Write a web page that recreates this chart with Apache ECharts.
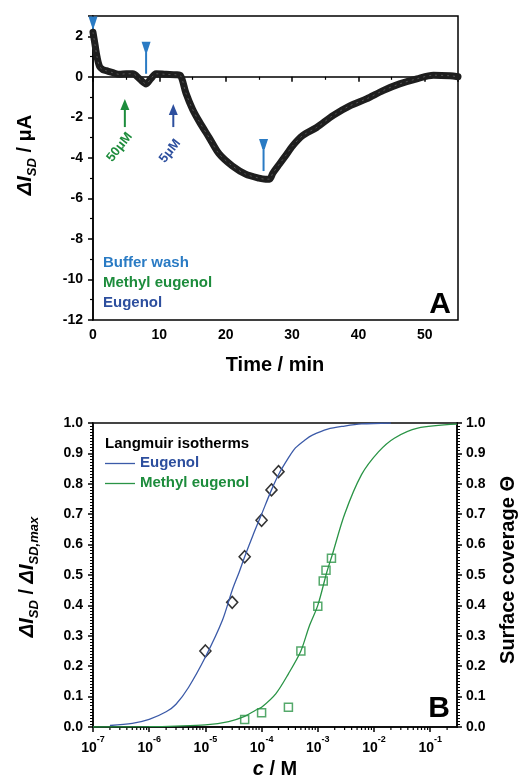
<!DOCTYPE html>
<html><head><meta charset="utf-8">
<script src="https://cdn.jsdelivr.net/npm/echarts@6/dist/echarts.min.js"></script>
<style>html,body{margin:0;padding:0;background:#fff}#c{width:521px;height:778px}</style>
</head><body><div id="c"></div>
<script>
// ---------- Panel A data ----------
const timeMin = [0, 0.3, 0.6, 1, 1.5, 2, 3, 4, 5, 6, 7, 8, 8.7, 9.5, 11, 12.5, 13.2, 14, 15, 16, 17.5, 19, 21, 23, 25, 26, 26.6, 27.1, 28.1, 29, 30.1, 31.6, 33.7, 36.2, 38.7, 41.2, 43.7, 46.2, 48.8, 51.3, 53.8, 55];
const currentUA = [2.2, 1.6, 1.0, 0.5, 0.35, 0.3, 0.2, 0.12, 0.15, 0.15, -0.1, -0.35, -0.1, 0.15, 0.12, 0.1, 0.05, -0.8, -1.6, -2.2, -3.0, -3.8, -4.4, -4.8, -5.0, -5.05, -5.05, -4.75, -4.3, -3.9, -3.4, -2.9, -2.5, -1.9, -1.43, -1.09, -0.68, -0.35, -0.1, 0.08, 0.05, 0.0];
const washT = [0, 8, 25.7];
const washY = [1.4, 0.15, -4.65];
const addT = [4.8, 12.1];
const addFrom = [-2.48, -2.48];
const addTo = [-1.09, -1.34];
const addLabels = ['50μM', '5μM'];
const addLabelT = [4.0, 11.6];
const addLabelY = [-3.47, -3.66];
const xTicksA = [0, 10, 20, 30, 40, 50];
const yTicksA = [-12, -10, -8, -6, -4, -2, 0, 2];

// ---------- Panel B data ----------
const eugC = [1e-5, 3e-5, 5e-5, 1e-4, 1.5e-4, 2e-4];
const eugTheta = [0.25, 0.41, 0.56, 0.68, 0.78, 0.84];
const meC = [5e-5, 1e-4, 3e-4, 5e-4, 1e-3, 1.25e-3, 1.4e-3, 1.75e-3];
const meTheta = [0.025, 0.047, 0.065, 0.25, 0.397, 0.48, 0.516, 0.555];
const eugFitC = [2e-7, 5e-7, 1e-6, 2e-6, 3e-6, 5e-6, 1e-5, 2e-5, 3e-5, 4e-5, 5e-5, 7e-5, 1e-4, 1.5e-4, 2e-4, 3e-4, 4e-4, 6e-4, 8e-4, 1.5e-3, 3e-3, 6e-3, 2e-2];
const eugFitTheta = [0.005, 0.012, 0.025, 0.05, 0.075, 0.13, 0.23, 0.35, 0.45, 0.51, 0.56, 0.63, 0.70, 0.78, 0.83, 0.885, 0.918, 0.945, 0.96, 0.98, 0.99, 0.997, 1.0];
const meFitC = [1e-7, 1e-6, 3e-6, 1e-5, 2.6e-5, 5e-5, 7.8e-5, 1e-4, 1.8e-4, 3e-4, 5e-4, 7e-4, 1e-3, 1.45e-3, 1.8e-3, 3e-3, 6e-3, 1.2e-2, 2.3e-2, 6e-2, 0.3];
const meFitTheta = [0.0, 0.001, 0.003, 0.007, 0.018, 0.035, 0.055, 0.065, 0.11, 0.175, 0.25, 0.33, 0.40, 0.51, 0.565, 0.70, 0.83, 0.905, 0.95, 0.983, 0.996];
const logDecades = [-7, -6, -5, -4, -3, -2, -1];
const logMultipliers = [2, 3, 4, 5, 6, 7, 8, 9];

const C_WASH = '#2a7bc4', C_ME = '#1d8c3c', C_EUG = '#2d4f9e';
const C_EUG_LINE = '#3b5aa8', C_ME_LINE = '#2a9446';
const FONT = '"Liberation Sans", Arial, sans-serif';

const zip = (a, b) => a.map((v, i) => [v, b[i]]);

const minorLog = [];
logDecades.forEach(d => logMultipliers.forEach(m => {
  const v = m * Math.pow(10, d);
  if (v <= 0.3) minorLog.push([v, 0]);
}));

const axisLineStyle = { color: '#000', width: 1.5 };
const labelStyle = { color: '#000', fontWeight: 'bold', fontSize: 14, fontFamily: FONT };

const chart = echarts.init(document.getElementById('c'), null, { renderer: 'canvas' });

function supLabel(v) {
  const e = Math.round(Math.log10(v));
  return '{b|10}{s|' + e + '}';
}

const option = {
  animation: false,
  backgroundColor: '#fff',
  grid: [
    { left: 93, top: 16, width: 365, height: 304, show: true, borderColor: '#000', borderWidth: 1.5, backgroundColor: 'transparent' },
    { left: 93, top: 423, width: 364, height: 304, show: true, borderColor: '#444', borderWidth: 2, backgroundColor: 'transparent' }
  ],
  xAxis: [
    {
      gridIndex: 0, type: 'value', min: 0, max: 55, interval: 10,
      axisLine: { lineStyle: axisLineStyle },
      axisTick: { show: true, length: 5, lineStyle: axisLineStyle },
      minorTick: { show: true, splitNumber: 2, length: 3, lineStyle: { color: '#000', width: 1.2 } },
      splitLine: { show: false },
      axisLabel: Object.assign({ margin: 8, showMaxLabel: false }, labelStyle)
    },
    {
      gridIndex: 1, type: 'log', logBase: 10, min: 1e-7, max: 0.3, interval: 1,
      axisLine: { lineStyle: axisLineStyle },
      axisTick: { show: true, length: 5, lineStyle: axisLineStyle },
      splitLine: { show: false },
      axisLabel: {
        margin: 8, showMaxLabel: false,
        formatter: supLabel,
        rich: {
          b: { color: '#000', fontWeight: 'bold', fontSize: 14, fontFamily: FONT, verticalAlign: 'bottom', lineHeight: 20 },
          s: { color: '#000', fontWeight: 'bold', fontSize: 9, fontFamily: FONT, verticalAlign: 'top', lineHeight: 10 }
        }
      }
    }
  ],
  yAxis: [
    {
      gridIndex: 0, type: 'value', min: -12, max: 3, interval: 2,
      axisLine: { show: true, lineStyle: axisLineStyle },
      axisTick: { show: true, length: 5, lineStyle: axisLineStyle },
      minorTick: { show: true, splitNumber: 2, length: 3, lineStyle: { color: '#000', width: 1.2 } },
      splitLine: { show: false },
      axisLabel: Object.assign({ margin: 10, showMaxLabel: false }, labelStyle)
    },
    {
      gridIndex: 1, type: 'value', min: 0, max: 1, interval: 0.1, position: 'left',
      axisLine: { show: true, lineStyle: axisLineStyle },
      axisTick: { show: true, length: 5, lineStyle: axisLineStyle },
      minorTick: { show: true, splitNumber: 10, length: 3, lineStyle: { color: '#000', width: 1 } },
      splitLine: { show: false },
      axisLabel: Object.assign({ margin: 10, formatter: v => v.toFixed(1) }, labelStyle)
    },
    {
      gridIndex: 1, type: 'value', min: 0, max: 1, interval: 0.1, position: 'right',
      axisLine: { show: true, lineStyle: axisLineStyle },
      axisTick: { show: true, length: 5, lineStyle: axisLineStyle },
      minorTick: { show: true, splitNumber: 10, length: 3, lineStyle: { color: '#000', width: 1 } },
      splitLine: { show: false },
      axisLabel: Object.assign({ margin: 9, formatter: v => v.toFixed(1) }, labelStyle)
    }
  ],
  series: [
    {
      type: 'line', xAxisIndex: 0, yAxisIndex: 0,
      data: zip(timeMin, currentUA), smooth: 0.3, showSymbol: false, clip: false,
      lineStyle: { color: '#1e1e1e', width: 7, cap: 'round', join: 'round' }
    },
    {
      type: 'line', xAxisIndex: 0, yAxisIndex: 0,
      data: zip(timeMin, currentUA), smooth: 0.3, showSymbol: false, clip: false,
      lineStyle: { color: '#555', width: 1, type: [2, 4] }
    },
    {
      type: 'custom', xAxisIndex: 0, yAxisIndex: 0, clip: false,
      data: zip(washT, washY),
      encode: { x: 0, y: 1 },
      renderItem: (params, api) => {
        const p = api.coord([api.value(0), api.value(1)]);
        const x = p[0], yb = p[1];
        return {
          type: 'group',
          children: [
            { type: 'rect', shape: { x: x - 1, y: yb - 24, width: 2, height: 24 }, style: { fill: C_WASH } },
            { type: 'polygon', shape: { points: [[x - 4.5, yb - 32], [x + 4.5, yb - 32], [x + 1.2, yb - 22], [x - 1.2, yb - 22]] }, style: { fill: C_WASH } }
          ]
        };
      }
    },
    {
      type: 'custom', xAxisIndex: 0, yAxisIndex: 0, clip: false,
      data: addT.map((t, i) => [t, addFrom[i], addTo[i], i]),
      encode: { x: 0, y: [1, 2] },
      renderItem: (params, api) => {
        const t = api.value(0);
        const p0 = api.coord([t, api.value(1)]);
        const p1 = api.coord([t, api.value(2)]);
        const col = api.value(3) === 0 ? C_ME : C_EUG;
        return {
          type: 'group',
          children: [
            { type: 'rect', shape: { x: p0[0] - 1, y: p1[1] + 8, width: 2, height: p0[1] - p1[1] - 8 }, style: { fill: col } },
            { type: 'polygon', shape: { points: [[p1[0], p1[1]], [p1[0] + 4.5, p1[1] + 11], [p1[0] - 4.5, p1[1] + 11]] }, style: { fill: col } }
          ]
        };
      }
    },
    {
      type: 'custom', xAxisIndex: 0, yAxisIndex: 0, clip: false,
      data: addLabelT.map((t, i) => [t, addLabelY[i], i]),
      encode: { x: 0, y: 1 },
      renderItem: (params, api) => {
        const i = api.value(2);
        const p = api.coord([api.value(0), api.value(1)]);
        return {
          type: 'text', x: p[0], y: p[1], rotation: 52 * Math.PI / 180,
          style: { text: addLabels[i], fill: i === 0 ? C_ME : C_EUG, font: 'bold 13px ' + FONT, align: 'center', verticalAlign: 'middle' }
        };
      }
    },
    // Panel B
    {
      type: 'custom', xAxisIndex: 1, yAxisIndex: 1, clip: false,
      data: minorLog, encode: { x: 0, y: 1 },
      renderItem: (params, api) => {
        const p = api.coord([api.value(0), 0]);
        return { type: 'line', shape: { x1: p[0], y1: p[1], x2: p[0], y2: p[1] + 3 }, style: { stroke: '#000', lineWidth: 1.2 } };
      }
    },
    {
      type: 'line', xAxisIndex: 1, yAxisIndex: 1, data: zip(eugFitC, eugFitTheta),
      smooth: 0.3, showSymbol: false, lineStyle: { color: C_EUG_LINE, width: 1.3 }
    },
    {
      type: 'line', xAxisIndex: 1, yAxisIndex: 1, data: zip(meFitC, meFitTheta),
      smooth: 0.3, showSymbol: false, lineStyle: { color: C_ME_LINE, width: 1.3 }
    },
    {
      type: 'scatter', xAxisIndex: 1, yAxisIndex: 1, data: zip(eugC, eugTheta),
      symbol: 'diamond', symbolSize: [11, 12],
      itemStyle: { color: 'rgba(255,255,255,0)', borderColor: '#000', borderWidth: 1.6 }
    },
    {
      type: 'scatter', xAxisIndex: 1, yAxisIndex: 1, data: zip(meC, meTheta),
      symbol: 'rect', symbolSize: 8,
      itemStyle: { color: 'rgba(255,255,255,0)', borderColor: C_ME_LINE, borderWidth: 1.5 }
    }
  ],
  graphic: [
    { type: 'text', x: 103, y: 263, style: { text: 'Buffer wash', fill: C_WASH, font: 'bold 15px ' + FONT, verticalAlign: 'middle' } },
    { type: 'text', x: 103, y: 283, style: { text: 'Methyl eugenol', fill: C_ME, font: 'bold 15px ' + FONT, verticalAlign: 'middle' } },
    { type: 'text', x: 103, y: 303, style: { text: 'Eugenol', fill: C_EUG, font: 'bold 15px ' + FONT, verticalAlign: 'middle' } },
    { type: 'text', x: 440, y: 305, style: { text: 'A', fill: '#000', font: 'bold 30px ' + FONT, align: 'center', verticalAlign: 'middle' } },
    { type: 'text', x: 275, y: 365, style: { text: 'Time / min', fill: '#000', font: 'bold 20px ' + FONT, align: 'center', verticalAlign: 'middle' } },
    { type: 'text', x: 27, y: 155, rotation: Math.PI / 2, style: {
      text: '{i|ΔI}{s|SD}{n| / μA}', align: 'center', verticalAlign: 'middle',
      rich: {
        i: { font: 'italic bold 20px ' + FONT, fill: '#000', verticalAlign: 'top', lineHeight: 24 },
        s: { font: 'italic bold 13px ' + FONT, fill: '#000', verticalAlign: 'bottom', lineHeight: 14 },
        n: { font: 'bold 20px ' + FONT, fill: '#000', verticalAlign: 'top', lineHeight: 24 }
      } } },
    { type: 'text', x: 105, y: 444, style: { text: 'Langmuir isotherms', fill: '#000', font: 'bold 15px ' + FONT, verticalAlign: 'middle' } },
    { type: 'line', shape: { x1: 105, y1: 463.5, x2: 135, y2: 463.5 }, style: { stroke: C_EUG_LINE, lineWidth: 1.3 } },
    { type: 'line', shape: { x1: 105, y1: 483.5, x2: 135, y2: 483.5 }, style: { stroke: C_ME_LINE, lineWidth: 1.3 } },
    { type: 'text', x: 140, y: 463, style: { text: 'Eugenol', fill: C_EUG, font: 'bold 15px ' + FONT, verticalAlign: 'middle' } },
    { type: 'text', x: 140, y: 483, style: { text: 'Methyl eugenol', fill: C_ME, font: 'bold 15px ' + FONT, verticalAlign: 'middle' } },
    { type: 'text', x: 439, y: 709, style: { text: 'B', fill: '#000', font: 'bold 30px ' + FONT, align: 'center', verticalAlign: 'middle' } },
    { type: 'text', x: 275, y: 769, style: {
      text: '{i|c}{n| / M}', align: 'center', verticalAlign: 'middle',
      rich: {
        i: { font: 'italic bold 20px ' + FONT, fill: '#000' },
        n: { font: 'bold 20px ' + FONT, fill: '#000' }
      } } },
    { type: 'text', x: 29, y: 577, rotation: Math.PI / 2, style: {
      text: '{i|ΔI}{s|SD}{n| / }{i|ΔI}{s|SD,max}', align: 'center', verticalAlign: 'middle',
      rich: {
        i: { font: 'italic bold 20px ' + FONT, fill: '#000', verticalAlign: 'top', lineHeight: 24 },
        s: { font: 'italic bold 13px ' + FONT, fill: '#000', verticalAlign: 'bottom', lineHeight: 14 },
        n: { font: 'bold 20px ' + FONT, fill: '#000', verticalAlign: 'top', lineHeight: 24 }
      } } },
    { type: 'text', x: 508, y: 570, rotation: Math.PI / 2, style: {
      text: 'Surface coverage Θ', fill: '#000', font: 'bold 20px ' + FONT, align: 'center', verticalAlign: 'middle' } }
  ]
};
chart.setOption(option);
</script>
</body></html>
